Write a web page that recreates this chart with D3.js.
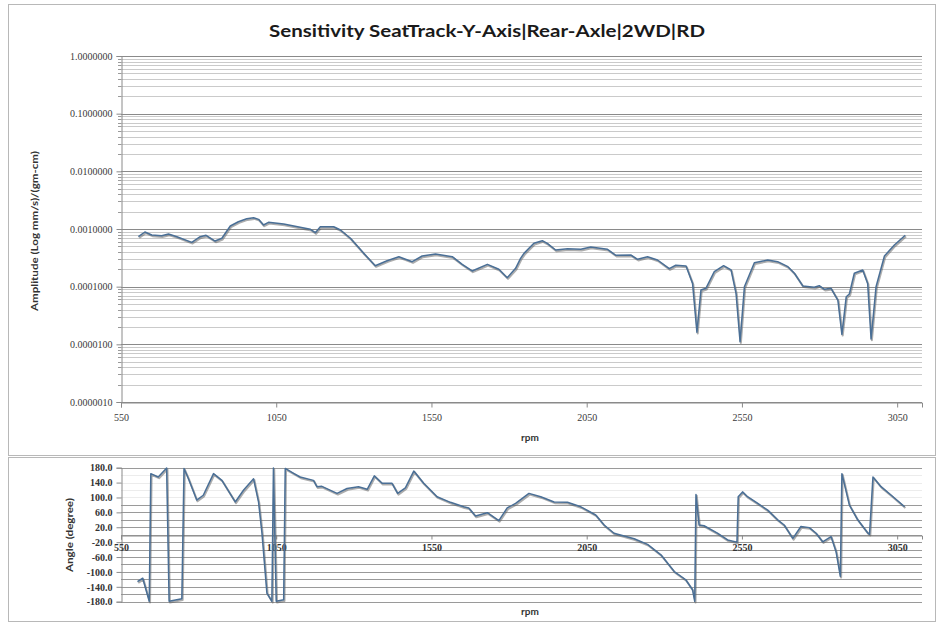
<!DOCTYPE html>
<html>
<head>
<meta charset="utf-8">
<script src="https://cdn.jsdelivr.net/npm/d3@7/dist/d3.min.js"></script>
<style>
  html, body { margin: 0; padding: 0; background: #ffffff; }
  svg { display: block; }
</style>
</head>
<body>
<svg id="chart" width="938" height="626"></svg>
<script>
// ---------------- DATA ----------------
const title = "Sensitivity SeatTrack-Y-Axis|Rear-Axle|2WD|RD";
const ampAxisTitle = "Amplitude  (Log mm/s)/(gm-cm)";
const phaseAxisTitle = "Angle  (degree)";
const xAxisTitle = "rpm";

const xTicks = [550, 1050, 1550, 2050, 2550, 3050];
const ampTicks = [0.000001, 0.00001, 0.0001, 0.001, 0.01, 0.1, 1];
const phaseTicks = [180, 140, 100, 60, 20, -20, -60, -100, -140, -180];

const ampRpm = [606, 627, 649, 681, 703, 730, 778, 805, 824, 853, 875, 902, 928, 955, 977, 993, 1009, 1025, 1074, 1127,
  1160, 1176, 1192, 1235, 1257, 1289, 1332, 1369, 1407, 1445, 1488, 1520, 1563, 1617, 1649, 1681, 1730, 1767, 1794, 1821,
  1837, 1848, 1880, 1907, 1923, 1950, 1988, 2031, 2063, 2117, 2144, 2192, 2214, 2246, 2278, 2316, 2337, 2370, 2391, 2405,
  2418, 2434, 2461, 2491, 2515, 2531, 2544, 2558, 2590, 2633, 2665, 2698, 2719, 2746, 2783, 2799, 2816, 2837, 2859, 2872,
  2886, 2896, 2912, 2939, 2955, 2966, 2982, 3009, 3041, 3076];
const ampValues = [7.35e-4, 8.87e-4, 7.87e-4, 7.65e-4, 8.19e-4, 7.35e-4, 5.87e-4, 7.35e-4, 7.78e-4, 6.19e-4, 6.9e-4, 1.127e-3, 1.337e-3, 1.507e-3, 1.57e-3, 1.47e-3, 1.172e-3, 1.306e-3, 1.22e-3, 1.07e-3,
  9.88e-4, 8.63e-4, 1.096e-3, 1.096e-3, 9.6e-4, 6.9e-4, 3.78e-4, 2.31e-4, 2.82e-4, 3.31e-4, 2.71e-4, 3.40e-4, 3.68e-4, 3.31e-4, 2.44e-4, 1.87e-4, 2.44e-4, 2.0e-4, 1.43e-4, 2.08e-4,
  3.10e-4, 3.78e-4, 5.65e-4, 6.27e-4, 5.65e-4, 4.32e-4, 4.55e-4, 4.45e-4, 4.87e-4, 4.45e-4, 3.50e-4, 3.54e-4, 2.98e-4, 3.31e-4, 2.90e-4, 2.05e-4, 2.35e-4, 2.28e-4, 1.14e-4, 1.62e-5,
  8.75e-5, 9.37e-5, 1.82e-4, 2.31e-4, 1.95e-4, 7.67e-5, 1.11e-5, 9.98e-5, 2.60e-4, 2.90e-4, 2.71e-4, 2.22e-4, 1.71e-4, 1.03e-4, 9.75e-5, 1.04e-4, 9.0e-5, 9.37e-5, 5.87e-5, 1.49e-5,
  6.7e-5, 7.46e-5, 1.71e-4, 1.95e-4, 1.14e-4, 1.24e-5, 9.98e-5, 3.40e-4, 5.28e-4, 7.78e-4];

const phaseRpm = [603, 620, 641, 646, 670, 697, 705, 746, 753, 767, 794, 815, 848, 875, 918, 945, 977, 993, 1004, 1020,
  1036, 1041, 1050, 1074, 1079, 1106, 1127, 1170, 1181, 1197, 1246, 1278, 1315, 1343, 1366, 1391, 1423, 1441, 1466, 1493,
  1525, 1568, 1611, 1654, 1670, 1692, 1730, 1767, 1794, 1821, 1864, 1902, 1945, 1988, 2031, 2079, 2106, 2138, 2203, 2246,
  2289, 2332, 2369, 2391, 2398, 2402, 2412, 2428, 2471, 2504, 2534, 2538, 2552, 2568, 2601, 2633, 2665, 2686, 2714, 2740,
  2767, 2789, 2810, 2837, 2853, 2867, 2872, 2896, 2923, 2956, 2961, 2972, 2998, 3031, 3074];
const phaseValues = [-126, -117, -179, 164, 155, 179, -179, -172, 178, 151, 93, 106, 164, 146, 88, 120, 150, 88, 5, -157,
  -179, 179, -179, -175, 178, 165, 155, 146, 129, 130, 111, 124, 129, 122, 158, 138, 138, 111, 126, 171,
  138, 102, 87, 75, 72, 50, 59, 38, 72, 84, 111, 102, 88, 87, 75, 53, 26, 4, -11, -26,
  -54, -99, -121, -148, -179, 108, 26, 24, 4, -14, -20, 102, 115, 102, 84, 66, 40, 26, -10, 22,
  19, 4, -19, -5, -45, -112, 164, 80, 40, 4, 1, 155, 129, 106, 75];

// ---------------- DRAW ----------------
const svg = d3.select("#chart");
const serif = "'Liberation Serif', 'DejaVu Serif', serif";
const sans = "Lato, 'Open Sans', 'Liberation Sans', sans-serif";
const lineColor = "#4a6f96";

// frames
svg.append("rect").attr("x", 8.5).attr("y", 4.5).attr("width", 927).attr("height", 451)
  .attr("fill", "#fff").attr("stroke", "#b8b8b8");
svg.append("rect").attr("x", 8.5).attr("y", 457.5).attr("width", 927).attr("height", 164)
  .attr("fill", "#fff").attr("stroke", "#b8b8b8");

const x = d3.scaleLinear().domain([550, 3130]).range([121, 922]);

function drawLine(g, data, lineGen) {
  g.append("path").datum(data).attr("d", lineGen)
    .attr("fill", "none").attr("stroke", "#5c5c5c").attr("stroke-opacity", 0.5)
    .attr("stroke-width", 2).attr("stroke-linejoin", "round")
    .attr("transform", "translate(0.8,1.2)");
  g.append("path").datum(data).attr("d", lineGen)
    .attr("fill", "none").attr("stroke", lineColor).attr("stroke-width", 1.5).attr("stroke-linejoin", "round");
}

// ---------- top chart ----------
const yA = d3.scaleLog().domain([1e-6, 1]).range([402, 56]);
const gTop = svg.append("g");

const minor = [];
ampTicks.slice(0, -1).forEach(d => { for (let m = 2; m <= 9; m++) minor.push(d * m); });
gTop.append("g").selectAll("line").data(minor).join("line")
  .attr("x1", 121).attr("x2", 922)
  .attr("y1", d => Math.round(yA(d)) + 0.5).attr("y2", d => Math.round(yA(d)) + 0.5)
  .attr("stroke", "#cacaca").attr("stroke-width", 1);
gTop.append("g").selectAll("line").data(ampTicks).join("line")
  .attr("x1", 121).attr("x2", 922)
  .attr("y1", d => Math.round(yA(d)) + 0.5).attr("y2", d => Math.round(yA(d)) + 0.5)
  .attr("stroke", "#8a8a8a").attr("stroke-width", 1.2);

const yAxisTop = d3.axisLeft(yA).tickValues(ampTicks).tickFormat(d3.format(".7f")).tickSize(5).tickPadding(4);
const gya = gTop.append("g").attr("transform", "translate(121.5,0)").call(yAxisTop);
gya.select(".domain").attr("stroke", "#8a8a8a");
gya.selectAll(".tick line").attr("stroke", "#8a8a8a");
gya.selectAll("text").attr("font-family", serif).attr("font-size", 10).attr("fill", "#3a3a3a");
gTop.append("g").selectAll("line").data(minor).join("line")
  .attr("x1", 118).attr("x2", 121)
  .attr("y1", d => Math.round(yA(d)) + 0.5).attr("y2", d => Math.round(yA(d)) + 0.5)
  .attr("stroke", "#9a9a9a");

const xAxisTop = d3.axisBottom(x).tickValues(xTicks).tickFormat(d3.format("d")).tickSize(5).tickPadding(6);
const gxa = gTop.append("g").attr("transform", "translate(0,402.5)").call(xAxisTop);
gxa.select(".domain").attr("stroke", "#8a8a8a");
gxa.selectAll(".tick line").attr("stroke", "#8a8a8a");
gxa.selectAll("text").attr("font-family", serif).attr("font-size", 10).attr("fill", "#3a3a3a");

drawLine(gTop, ampValues, d3.line().x((d, i) => x(ampRpm[i])).y(d => yA(d)));

svg.append("text").attr("x", 487).attr("y", 37).attr("text-anchor", "middle")
  .attr("font-family", sans).attr("font-weight", "bold").attr("font-size", 17).attr("fill", "#1a1a1a")
  .attr("textLength", 436).attr("lengthAdjust", "spacingAndGlyphs")
  .text(title);
svg.append("text").attr("transform", "translate(38,231) rotate(-90)").attr("text-anchor", "middle")
  .attr("font-family", sans).attr("font-weight", "bold").attr("font-size", 10).attr("fill", "#333")
  .attr("textLength", 160).attr("lengthAdjust", "spacingAndGlyphs")
  .text(ampAxisTitle);
svg.append("text").attr("x", 530).attr("y", 441).attr("text-anchor", "middle")
  .attr("font-family", sans).attr("font-weight", "bold").attr("font-size", 10).attr("fill", "#333")
  .text(xAxisTitle);

// ---------- bottom chart ----------
const yP = d3.scaleLinear().domain([-180, 180]).range([601.7, 467.7]);
const gBot = svg.append("g");
const pGrid = d3.range(-180, 181, 20);
gBot.append("g").selectAll("line").data(pGrid).join("line")
  .attr("x1", 121).attr("x2", 922)
  .attr("y1", d => Math.round(yP(d)) + 0.5).attr("y2", d => Math.round(yP(d)) + 0.5)
  .attr("stroke", d => (d > 80 && d < 180) ? "#ececec" : "#9a9a9a").attr("stroke-width", 1);

const yAxisBot = d3.axisLeft(yP).tickValues(phaseTicks).tickFormat(d => d.toFixed(1)).tickSize(5).tickPadding(4);
const gyp = gBot.append("g").attr("transform", "translate(121.5,0)").call(yAxisBot);
gyp.select(".domain").attr("stroke", "#8a8a8a");
gyp.selectAll(".tick line").attr("stroke", "#8a8a8a");
gyp.selectAll("text").attr("font-family", serif).attr("font-weight", "bold").attr("font-size", 10).attr("fill", "#333");

const xAxisBot = d3.axisBottom(x).tickValues(xTicks).tickFormat(d3.format("d")).tickSize(4).tickPadding(4);
const gxp = gBot.append("g").attr("transform", `translate(0,${Math.round(yP(0)) + 0.5})`).call(xAxisBot);
gxp.select(".domain").attr("stroke", "#8a8a8a");
gxp.selectAll(".tick line").attr("stroke", "#8a8a8a");
gxp.selectAll("text").attr("font-family", serif).attr("font-weight", "bold").attr("font-size", 10).attr("fill", "#333");

drawLine(gBot, phaseValues, d3.line().x((d, i) => x(phaseRpm[i])).y(d => yP(d)));

svg.append("text").attr("transform", "translate(73,535) rotate(-90)").attr("text-anchor", "middle")
  .attr("font-family", sans).attr("font-weight", "bold").attr("font-size", 10).attr("fill", "#333")
  .attr("textLength", 74).attr("lengthAdjust", "spacingAndGlyphs")
  .text(phaseAxisTitle);
svg.append("text").attr("x", 530).attr("y", 615).attr("text-anchor", "middle")
  .attr("font-family", sans).attr("font-weight", "bold").attr("font-size", 10).attr("fill", "#333")
  .text(xAxisTitle);
</script>
</body>
</html>
